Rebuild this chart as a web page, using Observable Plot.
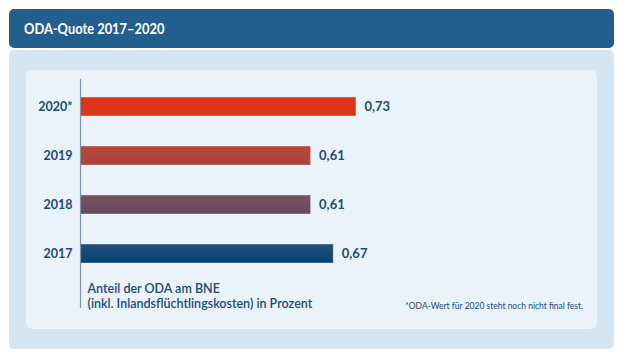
<!DOCTYPE html>
<html>
<head>
<meta charset="utf-8">
<script src="https://cdn.jsdelivr.net/npm/d3@7"></script>
<script src="https://cdn.jsdelivr.net/npm/@observablehq/plot@0.6"></script>
<style>
  html, body { margin: 0; padding: 0; background: #ffffff; }
  body { width: 624px; height: 359px; position: relative; overflow: hidden; font-family: Lato, "Noto Sans", sans-serif; }
  #header { position: absolute; left: 9px; top: 9px; width: 605px; height: 39px; background: #225f8f; border-radius: 5px; box-sizing: border-box; }
  #header h1 { margin: 0; position: absolute; left: 15px; top: 10px; font-size: 15.5px; line-height: 19px; font-weight: 700; color: #ffffff; letter-spacing: 0; transform: scaleX(0.83); transform-origin: left center; white-space: nowrap; }
  #outer { position: absolute; left: 9px; top: 50px; width: 605px; height: 299px; background: #d5e6f2; border-radius: 5px; }
  #inner { position: absolute; left: 26px; top: 70px; width: 571px; height: 259px; background: #eaf2fa; border-radius: 6px; }
  #chart { position: absolute; left: 0; top: 0; }
  #foot { position: absolute; right: 14px; top: 231px; font-size: 8.5px; color: #1b4a78; white-space: nowrap; }
</style>
</head>
<body>
<div id="header"><h1>ODA-Quote 2017–2020</h1></div>
<div id="outer"></div>
<div id="inner"><div id="chart"></div><div id="foot">*ODA-Wert für 2020 steht noch nicht final fest.</div></div>
<script>
const years = ["2020*", "2019", "2018", "2017"];
const values = [0.73, 0.61, 0.61, 0.67];
const valueLabels = ["0,73", "0,61", "0,61", "0,67"];
const gradTop = ["#df3416", "#b8473a", "#7d505c", "#224f7b"];
const gradBottom = ["#d8361b", "#a9443a", "#654a62", "#06436f"];
const axisTitle = "Anteil der ODA am BNE\n(inkl. Inlandsflüchtlingskosten) in Prozent";

const data = years.map((y, i) => ({year: y, value: values[i], label: valueLabels[i], idx: i}));
const textColor = "#1b4a78";

const chart = Plot.plot({
  width: 571,
  height: 259,
  marginTop: 9,
  marginBottom: 21,
  marginLeft: 54,
  marginRight: 10,
  style: {background: "transparent", fontFamily: "Lato, 'Noto Sans', sans-serif", color: textColor},
  x: {domain: [0, 1], range: [54, 432], axis: null},
  y: {domain: years, range: [11, 208.5], paddingInner: 0.615, paddingOuter: 0.3075, align: 0.5, label: null},
  marks: [
    Plot.barX(data, {y: "year", x: "value", fill: d => `url(#grad${d.idx})`, stroke: "#ffffff", strokeOpacity: 0.35, strokeWidth: 1}),
    Plot.ruleX([0], {stroke: "#7e93a8", strokeWidth: 1.2}),
    Plot.axisY({tickSize: 0, tickPadding: 8, fontSize: 12.5, fontWeight: "bold", fill: textColor, label: null}),
    Plot.text(data, {y: "year", x: "value", text: "label", dx: 8, textAnchor: "start", fontSize: 13, fontWeight: "bold", fill: textColor}),
    Plot.text([axisTitle], {frameAnchor: "bottom-left", dx: 7, dy: -1, textAnchor: "start", lineAnchor: "bottom", lineHeight: 1.15, fontSize: 12.5, fontWeight: 600, fill: textColor})
  ]
});

const svg = d3.select(chart);
const defs = svg.insert("defs", ":first-child");
gradTop.forEach((c, i) => {
  const g = defs.append("linearGradient").attr("id", "grad" + i).attr("x1", 0).attr("y1", 0).attr("x2", 0).attr("y2", 1);
  g.append("stop").attr("offset", "0%").attr("stop-color", c);
  g.append("stop").attr("offset", "100%").attr("stop-color", gradBottom[i]);
});
document.getElementById("chart").appendChild(chart);
</script>
</body>
</html>
